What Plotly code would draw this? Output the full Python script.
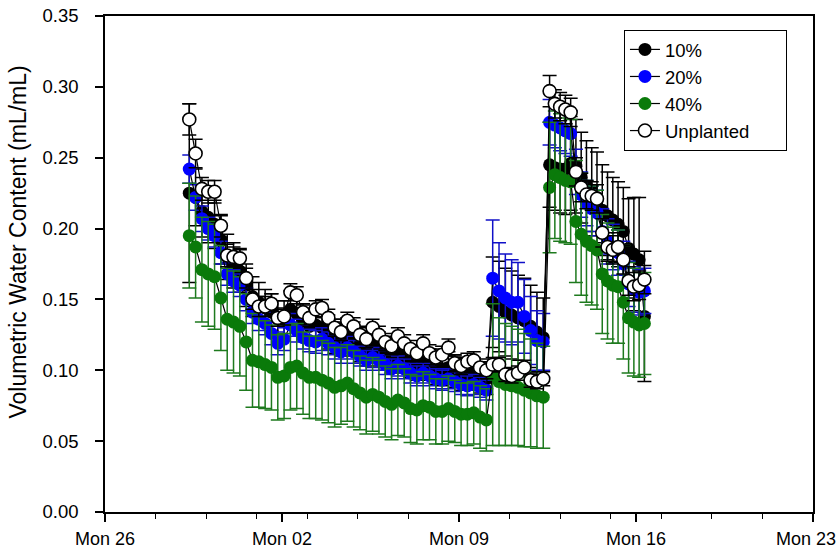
import plotly.graph_objects as go
import pandas as pd

# ---- sampling times (6-hourly until the second irrigation, then 5-hourly) ----
seg_a_start, seg_a_n = "2018-03-29 08:00", 57
seg_b_start, seg_b_n = "2018-04-12 14:00", 19
times = list(pd.date_range(seg_a_start, periods=seg_a_n, freq="6h")) + \
        list(pd.date_range(seg_b_start, periods=seg_b_n, freq="5h"))

series_names = ["10%", "20%", "40%", "Unplanted\u00a0\u00a0\u00a0\u00a0\u00a0\u00a0"]
y_title = "Volumetric Water Content (mL/mL)"
x_tick_vals = ["2018-03-26", "2018-04-02", "2018-04-09", "2018-04-16", "2018-04-23"]
x_tick_text = ["Mon 26", "Mon 02", "Mon 09", "Mon 16", "Mon 23"]

vwc_10 = [0.225, 0.222, 0.212, 0.208, 0.203, 0.192, 0.180, 0.174, 0.170, 0.160,
          0.152, 0.148, 0.144, 0.141, 0.136, 0.136, 0.143, 0.140, 0.134, 0.131,
          0.132, 0.130, 0.127, 0.124, 0.122, 0.125, 0.122, 0.118, 0.115, 0.118,
          0.115, 0.112, 0.109, 0.112, 0.109, 0.106, 0.104, 0.106, 0.104, 0.101,
          0.100, 0.102, 0.099, 0.097, 0.097, 0.098, 0.095, 0.094,
          0.148, 0.145, 0.141, 0.139, 0.137, 0.135, 0.131, 0.127, 0.123,
          0.245, 0.243, 0.242, 0.242, 0.246, 0.244, 0.236, 0.230, 0.226, 0.222,
          0.213, 0.209, 0.206, 0.203, 0.198, 0.186, 0.182, 0.178, 0.138]
err_10 = [0.063, 0.020, 0.018, 0.018, 0.017, 0.017, 0.016, 0.016, 0.015, 0.015,
          0.014, 0.014, 0.013, 0.013, 0.013, 0.013, 0.013, 0.013, 0.012, 0.012,
          0.012, 0.012, 0.012, 0.012, 0.012, 0.012, 0.012, 0.012, 0.012, 0.012,
          0.012, 0.012, 0.011, 0.011, 0.011, 0.011, 0.011, 0.011, 0.011, 0.011,
          0.011, 0.011, 0.011, 0.011, 0.011, 0.011, 0.011, 0.011,
          0.032, 0.032, 0.031, 0.031, 0.030, 0.030, 0.029, 0.028, 0.028,
          0.030, 0.030, 0.031, 0.032, 0.033, 0.033, 0.032, 0.032, 0.031, 0.032,
          0.032, 0.031, 0.030, 0.030, 0.031, 0.035, 0.040, 0.044, 0.046]

vwc_20 = [0.242, 0.222, 0.207, 0.200, 0.195, 0.183, 0.168, 0.163, 0.160, 0.150,
          0.141, 0.136, 0.133, 0.126, 0.119, 0.122, 0.132, 0.128, 0.123, 0.121,
          0.120, 0.122, 0.119, 0.116, 0.113, 0.116, 0.113, 0.110, 0.107, 0.109,
          0.107, 0.104, 0.101, 0.103, 0.101, 0.098, 0.096, 0.098, 0.096, 0.094,
          0.093, 0.094, 0.092, 0.090, 0.089, 0.090, 0.088, 0.086,
          0.165, 0.156, 0.151, 0.148, 0.148, 0.138, 0.128, 0.121, 0.120,
          0.275, 0.273, 0.271, 0.269, 0.267, 0.240, 0.224, 0.218, 0.214, 0.211,
          0.198, 0.191, 0.187, 0.183, 0.175, 0.161, 0.157, 0.155, 0.156]
err_20 = [0.010, 0.009, 0.009, 0.008, 0.008, 0.008, 0.008, 0.008, 0.008, 0.008,
          0.008, 0.008, 0.008, 0.008, 0.008, 0.008, 0.008, 0.008, 0.008, 0.008,
          0.008, 0.008, 0.008, 0.008, 0.008, 0.008, 0.008, 0.007, 0.007, 0.007,
          0.007, 0.007, 0.007, 0.007, 0.007, 0.007, 0.007, 0.007, 0.007, 0.007,
          0.007, 0.007, 0.007, 0.007, 0.007, 0.007, 0.007, 0.007,
          0.041, 0.034, 0.031, 0.030, 0.028, 0.026, 0.024, 0.021, 0.020,
          0.016, 0.016, 0.016, 0.016, 0.016, 0.016, 0.016, 0.016, 0.016, 0.016,
          0.016, 0.016, 0.016, 0.016, 0.016, 0.016, 0.016, 0.016, 0.016]

vwc_40 = [0.195, 0.187, 0.171, 0.168, 0.166, 0.151, 0.136, 0.134, 0.131, 0.120,
          0.107, 0.106, 0.104, 0.102, 0.095, 0.096, 0.102, 0.103, 0.098, 0.095,
          0.095, 0.093, 0.091, 0.088, 0.089, 0.091, 0.087, 0.084, 0.081, 0.083,
          0.081, 0.078, 0.076, 0.079, 0.077, 0.073, 0.072, 0.075, 0.074, 0.071,
          0.071, 0.073, 0.071, 0.069, 0.069, 0.070, 0.067, 0.065,
          0.097, 0.092, 0.090, 0.089, 0.088, 0.086, 0.084, 0.082, 0.081,
          0.229, 0.238, 0.236, 0.234, 0.233, 0.205, 0.196, 0.191, 0.188, 0.185,
          0.168, 0.163, 0.160, 0.159, 0.148, 0.137, 0.134, 0.132, 0.133]
err_40 = [0.037, 0.036, 0.037, 0.037, 0.037, 0.037, 0.036, 0.036, 0.035, 0.034,
          0.033, 0.032, 0.031, 0.030, 0.030, 0.030, 0.030, 0.030, 0.029, 0.029,
          0.029, 0.028, 0.028, 0.028, 0.027, 0.027, 0.027, 0.026, 0.026, 0.026,
          0.026, 0.025, 0.025, 0.025, 0.024, 0.024, 0.024, 0.024, 0.023, 0.023,
          0.023, 0.023, 0.022, 0.022, 0.022, 0.022, 0.022, 0.022,
          0.050, 0.045, 0.043, 0.042, 0.041, 0.040, 0.038, 0.037, 0.036,
          0.046, 0.045, 0.045, 0.044, 0.044, 0.043, 0.043, 0.043, 0.042, 0.042,
          0.042, 0.041, 0.041, 0.040, 0.040, 0.039, 0.038, 0.037, 0.036]

vwc_unpl = [0.277, 0.253, 0.228, 0.226, 0.226, 0.202, 0.181, 0.180, 0.179, 0.165,
            0.150, 0.145, 0.145, 0.147, 0.137, 0.138, 0.155, 0.153, 0.141, 0.137,
            0.143, 0.144, 0.137, 0.130, 0.127, 0.135, 0.131, 0.125, 0.122, 0.130,
            0.125, 0.120, 0.117, 0.124, 0.119, 0.115, 0.112, 0.119, 0.112, 0.109,
            0.111, 0.116, 0.105, 0.103, 0.106, 0.107, 0.102, 0.100,
            0.104, 0.104, 0.097, 0.096, 0.098, 0.102, 0.093, 0.092, 0.094,
            0.297, 0.288, 0.286, 0.284, 0.282, 0.240, 0.229, 0.224, 0.223, 0.221,
            0.197, 0.187, 0.185, 0.187, 0.178, 0.163, 0.159, 0.160, 0.164]
err_unpl = [0.011, 0.010, 0.008, 0.008, 0.008, 0.008, 0.008, 0.007, 0.007, 0.007,
            0.007, 0.007, 0.007, 0.007, 0.006, 0.006, 0.006, 0.006, 0.006, 0.006,
            0.006, 0.006, 0.006, 0.006, 0.006, 0.006, 0.006, 0.006, 0.006, 0.006,
            0.006, 0.006, 0.006, 0.006, 0.006, 0.006, 0.006, 0.006, 0.006, 0.006,
            0.006, 0.006, 0.006, 0.006, 0.006, 0.006, 0.006, 0.006,
            0.005, 0.005, 0.005, 0.005, 0.005, 0.005, 0.005, 0.005, 0.005,
            0.011, 0.010, 0.010, 0.010, 0.010, 0.010, 0.010, 0.010, 0.010, 0.010,
            0.010, 0.010, 0.010, 0.010, 0.010, 0.010, 0.010, 0.010, 0.010]

x_tick0 = "2018-03-26"
x_end = "2018-04-23 00:02"

FONT = "Liberation Sans, Arial, sans-serif"
GREEN = "#0a7a0a"
BLUE = "#0000ff"

styles = [
    dict(fill="black", edge="black", edgew=0, errc="black"),
    dict(fill=BLUE, edge=BLUE, edgew=0, errc="#1010c8"),
    dict(fill=GREEN, edge=GREEN, edgew=0, errc="#1e7a1e"),
    dict(fill="white", edge="black", edgew=1.6, errc="black"),
]
values = [vwc_10, vwc_20, vwc_40, vwc_unpl]
errors = [err_10, err_20, err_40, err_unpl]

fig = go.Figure()
for name, y, e, st in zip(series_names, values, errors, styles):
    fig.add_trace(go.Scatter(
        x=times, y=y, name=name, mode="lines+markers",
        line=dict(color="black", width=1.2),
        marker=dict(size=13, color=st["fill"], line=dict(color=st["edge"], width=st["edgew"])),
        error_y=dict(type="data", array=e, visible=True, color=st["errc"], thickness=1.5, width=7),
    ))

fig.update_layout(
    width=839, height=552,
    margin=dict(l=105, r=26, t=16, b=40, autoexpand=False),
    plot_bgcolor="white", paper_bgcolor="white",
    font=dict(family=FONT, size=18, color="black"),
    showlegend=True,
    legend=dict(
        x=0.733, y=0.972, xanchor="left", yanchor="top",
        bgcolor="white", bordercolor="black", borderwidth=1,
        font=dict(family=FONT, size=18.5, color="black"),
        tracegroupgap=0,
    ),
    annotations=[
        dict(text=y_title, textangle=-90, xref="paper", yref="paper",
             x=-0.123, y=0.545, xanchor="center", yanchor="middle", showarrow=False,
             font=dict(family=FONT, size=23, color="black")),
        # last date label sits against the right page edge, as in the original
        dict(text=x_tick_text[-1], xref="paper", yref="paper",
             x=1.0353, y=-0.031, xanchor="right", yanchor="top", showarrow=False,
             font=dict(family=FONT, size=18, color="black")),
    ],
)

fig.update_xaxes(
    type="date", range=[x_tick0, x_end], automargin=False,
    tickmode="array", tickvals=x_tick_vals, ticktext=x_tick_text[:-1] + [""],
    ticks="outside", ticklen=8, tickwidth=1.5, tickcolor="black",
    ticklabelstandoff=2, ticklabeloverflow="allow",
    minor=dict(dtick=2 * 86400000, tick0=x_tick0, ticks="outside", ticklen=5,
               tickwidth=1, tickcolor="black", showgrid=False),
    showline=True, linecolor="black", linewidth=1.5, mirror=True,
    showgrid=False, zeroline=False,
    tickfont=dict(family=FONT, size=18, color="black"),
)
fig.update_yaxes(
    range=[0, 0.35], dtick=0.05, tick0=0, tickformat=".2f", automargin=False,
    ticks="outside", ticklen=8, tickwidth=1.5, tickcolor="black",
    ticklabelstandoff=13,
    showline=True, linecolor="black", linewidth=1.5, mirror=True,
    showgrid=False, zeroline=False,
    tickfont=dict(family=FONT, size=18.5, color="black"),
)

fig.write_html("out.html", config={"displayModeBar": False},
               post_script="document.body.style.margin='0';")
